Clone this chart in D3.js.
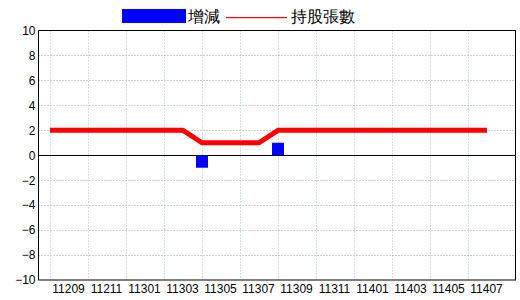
<!DOCTYPE html>
<html>
<head>
<meta charset="utf-8">
<script src="https://cdn.jsdelivr.net/npm/d3@7"></script>
<style>
  body { margin: 0; background: #fff; }
  svg text { font-family: "Liberation Sans", Arial, sans-serif; }
</style>
</head>
<body>
<script>
// data
var months = ["11209","11210","11211","11212","11301","11302","11303","11304",
              "11305","11306","11307","11308","11309","11310","11311","11312",
              "11401","11402","11403","11404","11405","11406","11407","11408"];
var holdings = [2,2,2,2,2,2,2,2, 1,1,1,1, 2,2,2,2,2,2,2,2,2,2,2,2];
var changes  = [0,0,0,0,0,0,0,0, -1,0,0,0, 1,0,0,0,0,0,0,0,0,0,0,0];
var yTicks = [-10,-8,-6,-4,-2,0,2,4,6,8,10];

var w = 520, h = 300;
// window.top is reserved, so use other names
var plotL = 38.5, plotR = 515.5, plotT = 30.5, plotB = 280;

var svg = d3.select("body").append("svg")
  .attr("width", w)
  .attr("height", h);

var x = d3.scalePoint().domain(months).range([50, 487]);
var y = d3.scaleLinear().domain([-10, 10]).range([plotB, plotT]);

// horizontal grid
svg.append("g").selectAll("line")
  .data(yTicks.filter(function(d) { return d != 0 && d != 10 && d != -10; }))
  .enter().append("line")
  .attr("x1", plotL).attr("x2", plotR)
  .attr("y1", function(d) { return Math.round(y(d)) + 0.5; })
  .attr("y2", function(d) { return Math.round(y(d)) + 0.5; })
  .attr("stroke", "#a0a0a0")
  .attr("stroke-dasharray", "1,2");

// vertical grid, every other month
var shown = months.filter(function(d, i) { return i % 2 == 0; });
svg.append("g").selectAll("line")
  .data(shown)
  .enter().append("line")
  .attr("x1", function(d) { return Math.round(x(d)) + 0.5; })
  .attr("x2", function(d) { return Math.round(x(d)) + 0.5; })
  .attr("y1", plotT).attr("y2", plotB)
  .attr("stroke", "#a6bccc")
  .attr("stroke-dasharray", "1,2");

// zero line
svg.append("line")
  .attr("x1", plotL).attr("x2", plotR)
  .attr("y1", Math.round(y(0)) + 0.5).attr("y2", Math.round(y(0)) + 0.5)
  .attr("stroke", "#000");

// bars
var bw = 12;
svg.append("g").selectAll("rect")
  .data(changes)
  .enter().append("rect")
  .attr("x", function(d, i) { return x(months[i]) - bw / 2; })
  .attr("y", function(d) { return Math.min(y(d), y(0)); })
  .attr("width", bw)
  .attr("height", function(d) { return Math.abs(y(d) - y(0)); })
  .attr("fill", "#0000ff");

// holdings line
var line = d3.line()
  .x(function(d, i) { return x(months[i]); })
  .y(function(d) { return y(d); });

svg.append("path")
  .datum(holdings)
  .attr("d", line)
  .attr("fill", "none")
  .attr("stroke", "#ff0000")
  .attr("stroke-width", 5)
  .attr("stroke-linejoin", "round");

// frame
svg.append("rect")
  .attr("x", plotL).attr("y", plotT)
  .attr("width", plotR - plotL).attr("height", plotB - plotT)
  .attr("fill", "none")
  .attr("stroke", "#000");

// y axis labels
var yAxis = d3.axisLeft(y).tickValues(yTicks).tickSize(0).tickPadding(3);
var gy = svg.append("g")
  .attr("transform", "translate(" + plotL + ",0)")
  .call(yAxis);
gy.select(".domain").remove();
gy.selectAll("text")
  .attr("font-size", 12)
  .attr("font-family", "Liberation Sans, Arial, sans-serif")
  .attr("fill", "#000");

// x axis labels
var xAxis = d3.axisBottom(x).tickValues(shown).tickSize(0).tickPadding(4);
var gx = svg.append("g")
  .attr("transform", "translate(18," + plotB + ")")
  .call(xAxis);
gx.select(".domain").remove();
gx.selectAll("text")
  .attr("font-size", 12)
  .attr("font-family", "Liberation Sans, Arial, sans-serif")
  .attr("fill", "#000");

// legend
var lg = svg.append("g");
lg.append("rect")
  .attr("x", 122).attr("y", 9)
  .attr("width", 64).attr("height", 14)
  .attr("fill", "#0000ff");
lg.append("text")
  .attr("x", 188).attr("y", 22)
  .attr("font-size", 16)
  .attr("font-family", "Noto Sans CJK TC, sans-serif")
  .text("增減");
lg.append("rect")
  .attr("x", 226).attr("y", 17)
  .attr("width", 61).attr("height", 1.2)
  .attr("fill", "#ff0000");
lg.append("text")
  .attr("x", 291).attr("y", 22)
  .attr("font-size", 16)
  .attr("font-family", "Noto Sans CJK TC, sans-serif")
  .text("持股張數");
</script>
</body>
</html>
